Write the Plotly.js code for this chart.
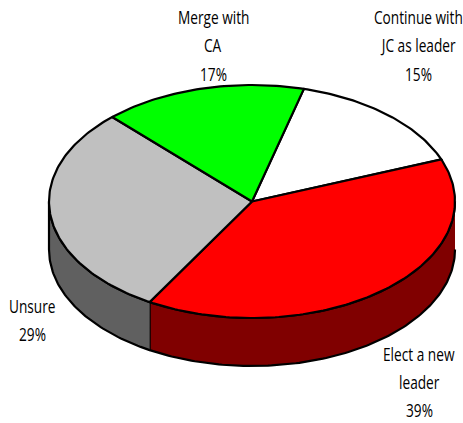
<!DOCTYPE html>
<html><head><meta charset="utf-8">
<script src="https://cdn.plot.ly/plotly-3.0.1.min.js"></script>
<style>html,body{margin:0;padding:0;background:#fff}#c{width:463px;height:423px}
.annotation-text{transform-box:fill-box;transform-origin:center;transform:scaleX(.76)}</style>
</head><body><div id="c"></div>
<script>
const categories = [["Continue with", "JC as leader"], ["Elect a new", "leader"], ["Unsure"], ["Merge with", "CA"]];
const percentLabels = ["15%", "39%", "29%", "17%"];
const sliceSizes = [15, 39.3, 29.5, 16.2];
const topColors = ["#ffffff", "#ff0000", "#c0c0c0", "#00ff00"];
const sideColors = ["#808080", "#800000", "#606060", "#008000"];
const cx = 252, cy = 201.5, rx = 203, ry = 116.5, depth = 48, startDeg = 14.8;

const total = sliceSizes.reduce((a, b) => a + b, 0);
const pt = (deg, dy) => {
  const r = deg * Math.PI / 180;
  return [cx + rx * Math.sin(r), cy - ry * Math.cos(r) + (dy || 0)];
};
const arc = (a, b, dy) => {
  const out = [], n = Math.max(2, Math.ceil(Math.abs(b - a)));
  for (let i = 0; i <= n; i++) out.push(pt(a + (b - a) * i / n, dy));
  return out;
};
const traces = [];
const poly = (pts, fill) => traces.push({
  type: "scatter", mode: "lines", hoverinfo: "skip", showlegend: false,
  x: pts.map(p => p[0]), y: pts.map(p => p[1]),
  fill: "toself", fillcolor: fill, line: {color: "#000", width: 2.2}
});
let a = startDeg;
const slices = sliceSizes.map((v, i) => {
  const s = {from: a, to: a + v / total * 360, i};
  a = s.to;
  return s;
});
slices.forEach(s => {
  const lo = Math.max(s.from, 90), hi = Math.min(s.to, 270);
  if (hi > lo) poly(arc(lo, hi, 0).concat(arc(hi, lo, depth)), sideColors[s.i]);
});
slices.forEach(s => poly([[cx, cy]].concat(arc(s.from, s.to, 0), [[cx, cy]]), topColors[s.i]));

const labelX = [418, 419, 32, 213];
const labelY = [17, 354, 306, 17];
const lineGaps = [28.7, 28.4, 28.7, 28.7];
const annotations = [];
categories.forEach((c, i) => c.concat(percentLabels[i]).forEach((t, j) => annotations.push({
  x: labelX[i], y: labelY[i] + j * lineGaps[i], xref: "x", yref: "y", showarrow: false,
  text: t, align: "center", borderpad: 0,
  font: {family: "Open Sans, Liberation Sans", size: 18, color: "#000"}
})));
Plotly.newPlot("c", traces, {
  width: 463, height: 423, margin: {l: 0, r: 0, t: 0, b: 0},
  paper_bgcolor: "#fff", plot_bgcolor: "#fff", showlegend: false,
  xaxis: {range: [0, 463], visible: false, fixedrange: true},
  yaxis: {range: [423, 0], visible: false, fixedrange: true},
  annotations
}, {displayModeBar: false, staticPlot: true});
</script></body></html>
